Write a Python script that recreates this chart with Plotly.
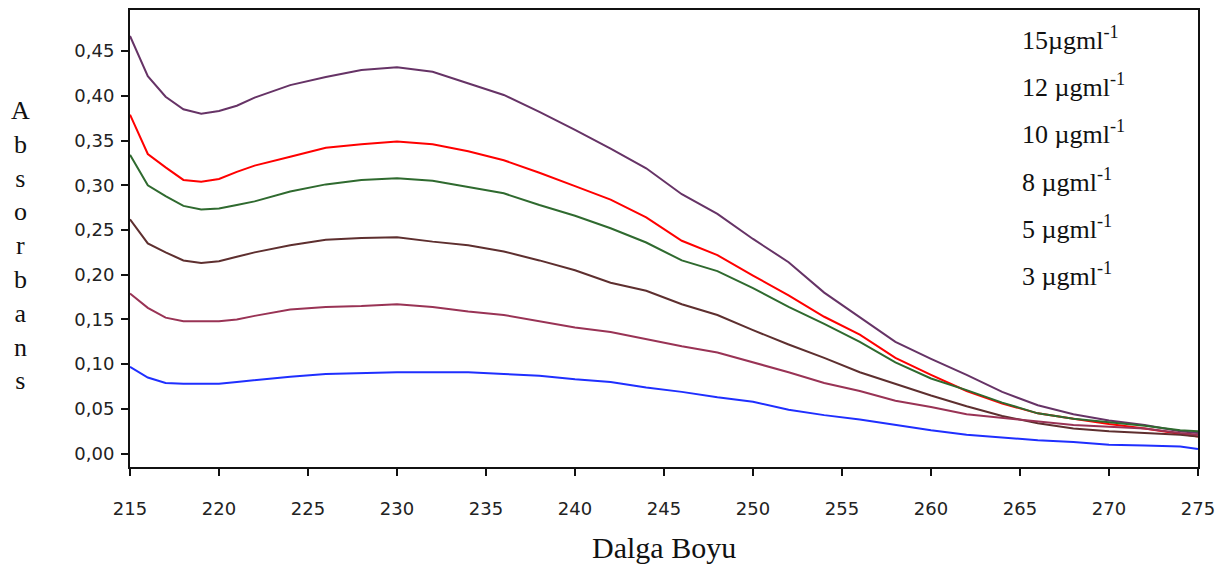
import plotly.graph_objects as go

wavelength = [215, 216, 217, 218, 219, 220, 221, 222, 224, 226, 228, 230, 232, 234, 236, 238,
              240, 242, 244, 246, 248, 250, 252, 254, 256, 258, 260, 262, 264, 266, 268, 270,
              272, 274, 275]

abs_15 = [0.467, 0.422, 0.399, 0.385, 0.380, 0.383, 0.389, 0.398, 0.412, 0.421, 0.429, 0.432,
          0.427, 0.414, 0.401, 0.382, 0.362, 0.341, 0.319, 0.290, 0.268, 0.240, 0.214, 0.180,
          0.153, 0.125, 0.106, 0.088, 0.069, 0.054, 0.044, 0.037, 0.032, 0.025, 0.023]
abs_12 = [0.379, 0.335, 0.320, 0.306, 0.304, 0.307, 0.315, 0.322, 0.332, 0.342, 0.346, 0.349,
          0.346, 0.338, 0.328, 0.314, 0.299, 0.284, 0.264, 0.238, 0.222, 0.199, 0.177, 0.153,
          0.133, 0.107, 0.088, 0.070, 0.056, 0.045, 0.039, 0.033, 0.028, 0.022, 0.019]
abs_10 = [0.334, 0.300, 0.288, 0.277, 0.273, 0.274, 0.278, 0.282, 0.293, 0.301, 0.306, 0.308,
          0.305, 0.298, 0.291, 0.278, 0.266, 0.252, 0.236, 0.216, 0.204, 0.185, 0.164, 0.145,
          0.125, 0.102, 0.084, 0.071, 0.057, 0.045, 0.039, 0.035, 0.031, 0.026, 0.025]
abs_8 = [0.262, 0.235, 0.225, 0.216, 0.213, 0.215, 0.220, 0.225, 0.233, 0.239, 0.241, 0.242,
         0.237, 0.233, 0.226, 0.216, 0.205, 0.191, 0.182, 0.167, 0.155, 0.138, 0.122, 0.107,
         0.091, 0.078, 0.065, 0.053, 0.042, 0.034, 0.028, 0.025, 0.023, 0.021, 0.019]
abs_5 = [0.179, 0.163, 0.152, 0.148, 0.148, 0.148, 0.150, 0.154, 0.161, 0.164, 0.165, 0.167,
         0.164, 0.159, 0.155, 0.148, 0.141, 0.136, 0.128, 0.120, 0.113, 0.102, 0.091, 0.079,
         0.070, 0.059, 0.052, 0.044, 0.040, 0.036, 0.032, 0.030, 0.028, 0.023, 0.021]
abs_3 = [0.097, 0.085, 0.079, 0.078, 0.078, 0.078, 0.080, 0.082, 0.086, 0.089, 0.090, 0.091,
         0.091, 0.091, 0.089, 0.087, 0.083, 0.080, 0.074, 0.069, 0.063, 0.058, 0.049, 0.043,
         0.038, 0.032, 0.026, 0.021, 0.018, 0.015, 0.013, 0.010, 0.009, 0.008, 0.005]

series_values = [abs_15, abs_12, abs_10, abs_8, abs_5, abs_3]
series_colors = ["#663366", "#ff0000", "#2f6a2f", "#5e2f2f", "#993355", "#1f2fff"]
legend_labels = ["15µgml<sup>-1</sup>", "12 µgml<sup>-1</sup>", "10 µgml<sup>-1</sup>",
                 "8 µgml<sup>-1</sup>", "5 µgml<sup>-1</sup>", "3 µgml<sup>-1</sup>"]
x_ticks = [215, 220, 225, 230, 235, 240, 245, 250, 255, 260, 265, 270, 275]
y_ticks = [0.00, 0.05, 0.10, 0.15, 0.20, 0.25, 0.30, 0.35, 0.40, 0.45]
x_title = "Dalga Boyu"
y_title = "Absorbans"

fig = go.Figure()
for vals, col, lab in zip(series_values, series_colors, legend_labels):
    fig.add_trace(go.Scatter(x=wavelength, y=vals, mode="lines", name=lab,
                             line=dict(color=col, width=2), showlegend=False))

W, H = 1228, 567
ml, mr, mt, mb = 130, 30, 8, 100
ph = H - mt - mb

axis_common = dict(showline=True, linecolor="#111111", linewidth=2, mirror=True,
                   ticks="outside", tickcolor="#111111", tickwidth=2, ticklen=7,
                   showgrid=False, zeroline=False,
                   tickfont=dict(family="DejaVu Sans", size=18, color="#222222"))

fig.update_layout(
    width=W, height=H,
    margin=dict(l=ml, r=mr, t=mt, b=mb),
    paper_bgcolor="white", plot_bgcolor="white",
    separators=",.",
    xaxis=dict(range=[215, 275], tickvals=x_ticks, ticklabelstandoff=17, **axis_common),
    yaxis=dict(range=[-0.015, 0.496], tickvals=y_ticks, tickformat=".2f",
               ticklabelstandoff=3, **axis_common),
)

# concentration labels
label_centers_px = [37, 84, 131, 179, 226, 274]
for lab, cy in zip(legend_labels, label_centers_px):
    fig.add_annotation(text=lab, xref="paper", yref="paper",
                       x=(1020 - ml) / (W - ml - mr), xanchor="left",
                       y=(H - mb - cy) / ph, yanchor="middle", showarrow=False,
                       font=dict(family="Liberation Serif", size=26, color="#111111"))

# x title
fig.add_annotation(text=x_title, xref="paper", yref="paper", x=0.5, xanchor="center",
                   y=(H - mb - 548) / ph, yanchor="middle", showarrow=False,
                   font=dict(family="Liberation Serif", size=30, color="#111111"))

# y title (stacked letters)
fig.add_annotation(text="<br>".join(list(y_title)), xref="paper", yref="paper",
                   x=(20 - ml) / (W - ml - mr), xanchor="center",
                   y=(H - mb - 245) / ph, yanchor="middle", showarrow=False, align="center",
                   font=dict(family="Liberation Serif", size=26, color="#111111"))

fig.write_html("out.html")
